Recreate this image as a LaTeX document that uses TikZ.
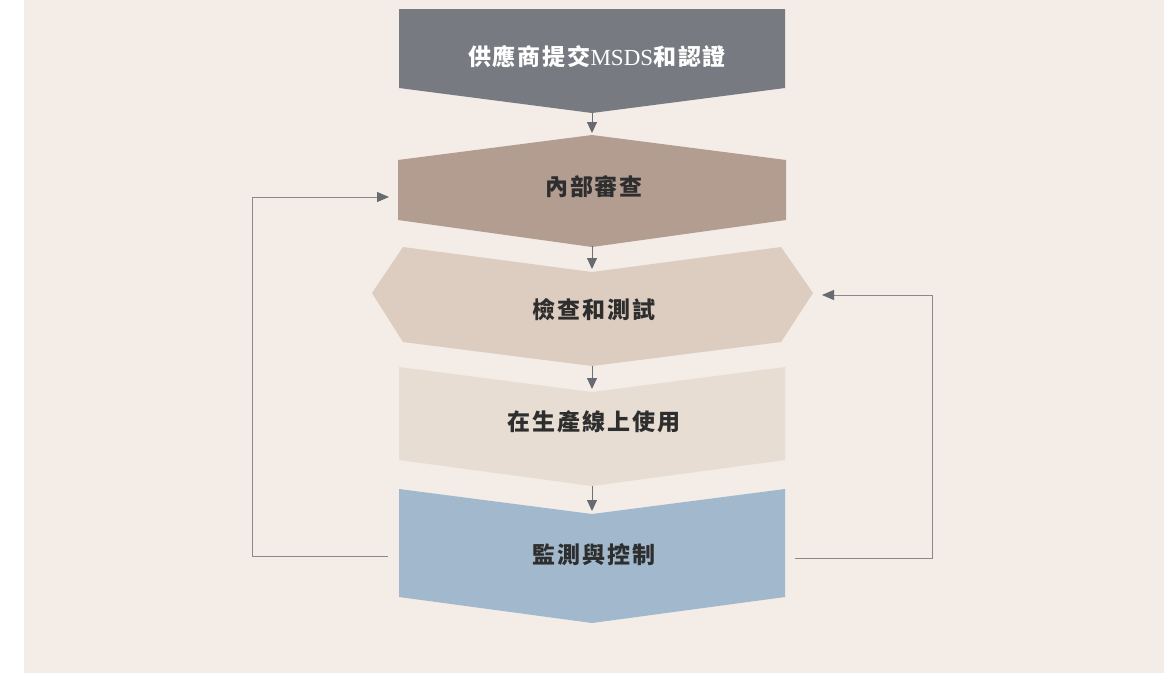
\documentclass[tikz,border=0pt]{standalone}
\usepackage{fontspec}
\newfontfamily\cjkfont[LetterSpace=8]{Noto Sans CJK TC}
\newfontfamily\latfont{Liberation Serif}
\usetikzlibrary{arrows.meta}
\definecolor{bgbeige}{HTML}{F3ECE7}
\definecolor{boxgray}{HTML}{777B81}
\definecolor{boxtaupe}{HTML}{B39D91}
\definecolor{boxsand}{HTML}{DCCDC0}
\definecolor{boxcream}{HTML}{E7DDD2}
\definecolor{boxblue}{HTML}{A2B9CD}
\definecolor{linegray}{HTML}{8A8A8A}
\definecolor{headgray}{HTML}{676B71}
\definecolor{txtdark}{HTML}{2E2E2E}
\tikzset{
  steptext/.style={font=\cjkfont\bfseries\fontsize{23}{27}\selectfont, text=txtdark, inner sep=0pt},
  flow/.style={draw=headgray!80!linegray, line width=1pt, shorten >=2pt,
    -{Triangle[length=11pt,width=10pt,color=headgray]}},
  feedback/.style={draw=linegray, line width=0.9pt,
    -{Triangle[length=12pt,width=10pt,color=headgray]}}
}
\begin{document}
\begin{tikzpicture}[x=1pt,y=-1pt]
  \useasboundingbox (0,0) rectangle (1164,673);
  \fill[bgbeige] (24,0) rectangle (1164,673);
  % the five steps
  \fill[boxgray] (399,9) -- (785,9) -- (785,88) -- (592,113) -- (399,88) -- cycle;
  \fill[boxtaupe] (398,160) -- (592,135) -- (786,160) -- (786,220) -- (592,247) -- (398,220) -- cycle;
  \fill[boxsand] (403,247) -- (592,272) -- (781,247) -- (813,293) -- (781,342) -- (592,366) -- (403,342) -- (372,293) -- cycle;
  \fill[boxcream] (399,367) -- (592,392) -- (785,367) -- (785,460) -- (592,486) -- (399,460) -- cycle;
  \fill[boxblue] (399,489) -- (592,514) -- (785,489) -- (785,597) -- (592,623) -- (399,597) -- cycle;
  % labels
  \node[steptext, text=white] (supply) at (597,57) {供應商提交{\latfont\mdseries MSDS}和認證};
  \node[steptext] (review) at (594,187) {內部審查};
  \node[steptext] (test) at (594,310) {檢查和測試};
  \node[steptext] (use) at (594,422) {在生產線上使用};
  \node[steptext] (monitor) at (594,555) {監測與控制};
  % tips and notches
  \coordinate (supply-tip) at (592,113);
  \coordinate (review-top) at (592,135);
  \coordinate (review-tip) at (592,246);
  \coordinate (test-top) at (592,271);
  \coordinate (test-tip) at (592,366);
  \coordinate (use-top) at (592,391);
  \coordinate (use-tip) at (592,486);
  \coordinate (monitor-top) at (592,513);
  \draw[flow] (supply-tip) -- (review-top);
  \draw[flow] (review-tip) -- (test-top);
  \draw[flow] (test-tip) -- (use-top);
  \draw[flow] (use-tip) -- (monitor-top);
  % loops back
  \coordinate (monitor-l) at (388,556);
  \coordinate (review-l) at (389,197);
  \coordinate (monitor-r) at (795,558);
  \coordinate (test-r) at (822,295);
  \draw[feedback] (monitor-l) -- ++(-136,0) |- (review-l);
  \draw[feedback] (monitor-r) -- ++(137,0) |- (test-r);
\end{tikzpicture}
\end{document}
